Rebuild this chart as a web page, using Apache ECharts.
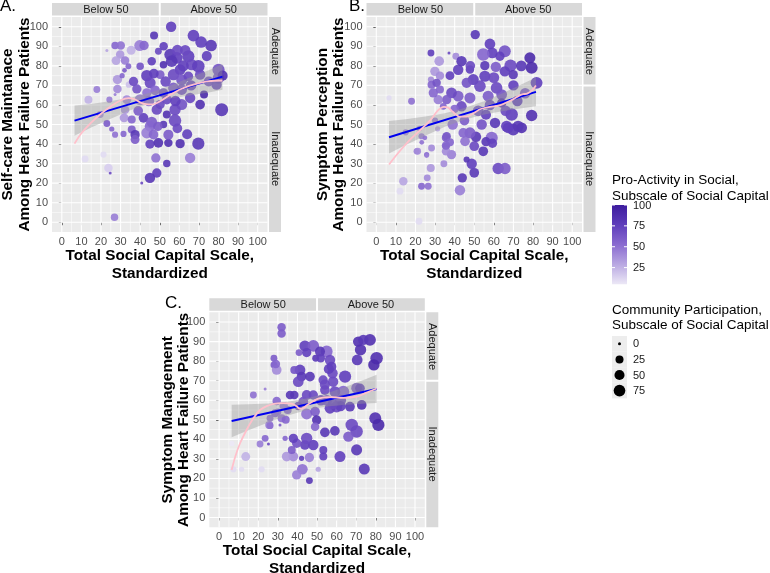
<!DOCTYPE html>
<html><head><meta charset="utf-8">
<script src="https://cdn.jsdelivr.net/npm/echarts@6/dist/echarts.min.js"></script>
<style>html,body{margin:0;padding:0;background:#fff}#c{width:770px;height:573px}</style>
</head><body><div id="c"></div><script>
// ---------- data ----------
const xTicks=[0,10,20,30,40,50,60,70,80,90,100];
const yTicks=[0,10,20,30,40,50,60,70,80,90,100];
const minorBreaks=[5,15,25,35,45,55,65,75,85,95];
const colorLegendTicks=[25,50,75,100];
const sizeLegendTicks=[0,25,50,75];
const stripTop=['Below 50','Above 50'];
const stripRight=['Adequate','Inadequate'];
const yTitles=['Self-care Maintanace\nAmong Heart Failure Patients','Symptom Perception\nAmong Heart Failure Patients','Symptom Management\nAmong Heart Failure Patients'];
const xTitle='Total Social Capital Scale,\nStandardized';
const panelLabels=['A.','B.','C.'];

// [x, y, pro-activity, community participation]
const panelA=[[13.6,62.7,25,25],[17.9,67.9,45,15],[23,87.8,30,0],[27.2,90.4,55,20],[30.1,90.4,50,30],[29.8,85.8,35,30],[35.4,88,25,35],[27.7,82.7,30,35],[32.3,82.7,45,30],[34,79.8,55,8],[32,77.7,60,3],[28.4,73,35,40],[30.8,75,55,5],[34.2,70.4,20,10],[28.4,68.2,40,30],[27.2,65.3,45,0],[24.3,62.7,45,10],[39.8,90.4,45,65],[42,90.4,55,40],[47.1,95.5,80,25],[49.3,87.5,70,15],[36.6,72,70,40],[38.3,68.2,65,40],[43.4,75,75,70],[45.1,71.3,70,65],[40,79.8,65,20],[45.9,82.4,75,30],[50.2,75.5,60,35],[47.6,67.5,55,45],[43.4,66.2,50,40],[40,62.7,45,65],[33.2,62.7,40,35],[32.3,57.6,35,30],[31.8,53.4,35,35],[35.7,52.5,55,25],[41.7,53.4,75,45],[45.9,51.2,60,60],[45,49.1,55,55],[23,50.5,60,15],[25.5,47.7,55,5],[19.6,55.1,40,15],[27.2,44.8,50,10],[31.5,45.2,55,10],[35.7,47.4,60,25],[37.4,44.8,80,40],[37.4,42.3,60,35],[43.4,45.7,45,65],[46.8,44.8,55,45],[45,40,75,40],[49.3,40.6,85,45],[54.4,40.6,85,30],[60.4,40.2,85,40],[69.7,40.2,80,85],[51.9,50,80,20],[53.6,55.1,85,25],[57.8,52,70,90],[54.4,44.8,60,50],[65.5,32.9,45,55],[53.6,30,80,20],[48,32.9,50,40],[48.5,25.2,75,40],[45,22.7,80,55],[40.8,20.1,70,0],[24.7,25.2,70,0],[21.3,34.6,10,10],[11.9,32.4,10,15],[23.8,27.8,15,30],[26.9,2.6,45,20],[55.3,85.8,80,75],[58.7,84.1,75,75],[64.6,84.9,75,85],[66.3,80.6,70,70],[69.7,79.8,75,90],[60.4,78.1,75,60],[56.1,82.4,80,75],[51.9,80.6,85,20],[57,75.5,70,70],[61.2,72.9,65,65],[64.6,74.6,70,45],[70.6,75.5,70,55],[80,78,65,85],[80,73.8,60,75],[79,70.4,70,55],[82.1,75,85,50],[57,68.7,60,60],[51.9,66.2,65,40],[53.6,62.7,70,45],[61.2,67.9,65,60],[65.5,63.6,70,55],[72.6,65.3,90,25],[70.6,60.2,85,45],[81.6,57.6,80,100],[61.2,60.2,65,65],[57.8,57.6,70,70],[50.2,60.2,70,40],[48.5,57.6,70,55],[67.2,95.5,75,75],[71.1,92.2,75,75],[76.2,90.4,80,75],[55.8,100,75,55],[63,88,70,55],[52,90,75,30],[44.5,62,55,55],[59,88,70,60],[62,80,75,65],[74,85,75,50],[66,70,70,55],[75,72,65,50],[58,62,75,55],[47,76,75,45],[53,72,70,55],[39,57,60,45],[64,45,75,50],[59,48,70,45],[49,49,60,40]];
const panelB=[[50.5,96,80,40],[58,91.2,75,60],[59.2,86.6,75,60],[27.9,86.6,75,15],[37.1,86.6,70,0],[40.6,84.9,40,15],[32.1,82.4,35,45],[29.9,77.2,35,40],[27.9,73,40,10],[32.5,75,40,30],[37.6,75,75,35],[41.8,78,75,55],[43.5,82.4,80,55],[47.8,78.1,75,30],[54.6,85.8,55,90],[55.4,80.1,80,40],[61,79.5,60,55],[65.6,87.5,65,80],[63.1,84.9,75,40],[68.5,80.1,70,85],[65.6,77.2,75,55],[69.9,75.5,80,40],[78.4,84.1,90,65],[79.3,79,90,80],[81.8,71.3,75,80],[49.5,73,75,65],[52.9,69.6,70,75],[55.4,74.7,75,65],[61.4,68.7,70,75],[64,65.3,65,60],[57.1,64.5,60,65],[46.1,71.3,65,50],[41.8,64.5,60,60],[47.8,63.6,60,65],[43.5,59.3,70,55],[38.4,66.2,70,60],[35.9,62.7,60,40],[31.6,62.7,45,40],[29.1,66.2,55,40],[28.2,70.4,55,25],[30.8,71.3,65,30],[32.5,67.9,55,25],[34.2,59.3,55,15],[18,61.9,50,15],[6.5,63.6,10,5],[35.9,44,65,30],[35.5,38.9,60,15],[38.4,34.6,45,40],[23.1,44,45,10],[20.6,36.3,45,10],[25.7,34.6,55,5],[28.2,38,40,15],[27.8,27.8,35,25],[23.1,18.4,55,15],[26.5,18.4,50,15],[13.8,21,30,30],[12.1,15.9,10,15],[21.8,0.5,10,15],[42.7,16.4,45,55],[43.9,22.7,80,40],[50,25.3,80,45],[48.7,29.9,75,55],[46.1,32.1,80,10],[62.2,27.5,70,70],[65.7,27.5,60,70],[34.5,29.9,40,15],[26,22.7,40,15],[25.7,34.1,45,3],[21.1,36.3,40,15],[23.2,40.9,50,3],[24.8,43.2,50,3],[35.6,36.3,40,30],[35.6,39.2,55,30],[35.6,43.2,60,30],[37.6,40.9,55,25],[31.3,47.8,30,5],[50,38.9,70,45],[50.9,43.7,80,55],[54.6,36.3,80,45],[58.9,43.2,55,85],[56,41.2,80,40],[59.3,40.4,75,40],[45.3,41.4,50,45],[47.8,45.7,60,65],[44.4,45.7,55,45],[53.8,50,65,55],[60.6,50.8,80,55],[69.9,47.4,80,80],[74.2,48.3,85,60],[67.3,48.3,75,60],[79.3,54.6,85,70],[69.1,55.1,75,90],[66.5,49.1,75,65],[72.4,49.1,80,65],[64,61,85,40],[58,60,70,55],[52,57,65,60],[72,62,75,55],[76,66,60,55],[40,58,55,30],[45,52,60,45],[39,50,50,55],[30,52,45,10],[22,48,45,5],[15,46,40,10],[74,80,80,60],[60,74,70,60],[70,70,75,55],[48,80,70,45],[66,57,70,55],[56,55,75,50]];
const panelC=[[31.9,97.3,60,30],[31.9,94.2,60,30],[43.8,87.8,75,65],[48.1,87.8,60,75],[40.8,84.4,60,15],[44.7,84.4,75,40],[54.9,84.9,55,80],[51.5,84.9,80,50],[49.3,81.5,80,15],[51.9,81.5,75,30],[56.6,80.6,70,55],[57.4,77.2,75,45],[57.9,73.8,70,55],[64.3,72.1,75,85],[58.2,69.5,70,55],[53.1,70.4,70,40],[46.4,72.1,80,45],[41.3,75.5,75,60],[42.1,72.1,80,45],[40.4,69.5,70,60],[38.4,75.5,65,25],[28,81.5,60,15],[28,78.1,60,15],[29.4,75.5,40,45],[29,78.5,55,30],[71,90,85,55],[72.2,85.8,85,70],[77,90.9,85,80],[73.6,90.9,80,55],[80.4,81.5,85,90],[79,78.1,90,70],[70.5,80.6,80,60],[70.2,66.2,60,60],[79.7,50.8,85,80],[81.3,47.4,90,85],[67.7,47.4,70,90],[70.2,44,70,90],[66,41.4,60,55],[70.2,34.6,80,65],[74.1,24.8,80,65],[61.7,31.2,75,65],[59.1,44.3,80,45],[54,43.6,80,45],[53.2,34.6,75,25],[53.2,31.2,75,25],[50.6,24.7,30,5],[46.1,30.7,45,40],[42.5,24.7,50,60],[39.6,21.8,45,40],[46.1,18.9,80,15],[42.1,30.3,75,5],[37.9,31.2,40,45],[34.5,31.2,35,45],[37.1,34.6,60,25],[43.8,37.1,75,45],[48.1,37.1,75,55],[44.7,40.5,70,70],[39.6,38,65,40],[37.9,40.5,75,40],[33.7,40.5,55,5],[23.5,40.5,55,15],[20.9,37.6,45,15],[25.2,37.6,70,0],[13.6,31.2,25,35],[7.3,24.7,10,10],[11.5,24.7,10,5],[21.7,24.7,10,10],[6.5,37.9,5,5],[17.5,62.7,50,15],[23.5,65.7,45,0],[29.4,59.6,55,30],[28.6,53.3,55,25],[26,50.8,50,15],[25.6,47.4,45,25],[31.1,47.4,60,0],[31.9,50.8,50,25],[36.2,62.7,80,30],[38.4,62.7,80,30],[44.7,62.7,70,45],[48.1,62.7,70,40],[43,59.3,65,45],[40.4,57.1,70,30],[44.7,53,50,65],[49,54.2,60,45],[49.8,49.9,85,40],[49,46.5,55,30],[63.4,64.4,55,80],[59.1,64.4,70,60],[54,65.2,70,45],[60,56.7,70,70],[56.6,55.9,75,60],[66.8,56.7,80,45],[72.8,57.6,85,45],[71.9,66.1,75,45],[52,60,70,55],[55,60,65,60],[62,60,70,65],[35,55,55,25],[33,57,45,30],[30,54,50,15],[26,47,50,15],[34,50,55,25],[56,76,75,50],[54,68,70,50],[62,57,75,55],[58,58,70,50]];

// linear fit + confidence band, loess curve
const bandXA=[6.5,15,25,35,45,55,65,75,82];
const bandLoA=[44.3,48.5,53,57.3,60.7,63.3,64.9,66.4,67.8];
const bandHiA=[59.7,60.5,62,63.7,66.3,69.7,73.9,77.8,81];
const lmA=[[6.5,52],[82,74.5]];
const loessA=[[6.5,40.2],[10,45.5],[15,51],[20,55.5],[26,60],[30,62.3],[34,63.5],[37,63],[40,61.3],[43,60.4],[46,60.3],[50,61.8],[55,65],[60,67.8],[65,69.8],[70,71.2],[75,72.2],[82,72.5]];
const bandXB=[6.5,15,25,35,45,55,65,75,81.5];
const bandLoB=[35.2,39.5,44.3,48.8,52.4,55.1,56.9,58.4,59.4];
const bandHiB=[51.8,52.7,54.1,55.8,58.4,61.9,66.3,71,74];
const lmB=[[6.5,43.5],[81.5,66.7]];
const loessB=[[6.5,29.5],[10,34],[13.8,38.5],[18,43],[22.3,47],[27.4,52],[31.6,57.3],[34.5,59],[36.5,58.8],[39,56.5],[42.7,54],[46.1,54],[50,56],[53,57.8],[58,59],[63,59.8],[67,61.5],[70,63],[73,64.8],[75,65.5],[77,65.8],[79.5,67.5],[81.5,70]];
const bandXC=[6.4,15,25,35,45,55,65,75,80.4];
const bandLoC=[41.1,44.7,48.6,52.2,55,56.8,57.7,58.3,58.6];
const bandHiC=[57.7,57.9,58.4,59.2,61,63.6,67.1,70.9,73];
const lmC=[[6.4,49.4],[80.4,65.8]];
const loessC=[[6.4,24.3],[8.2,31],[10.7,38],[14,44.8],[17.5,50.8],[20.9,55],[24.3,57],[28,58.2],[32.8,58.5],[37,58.3],[39.5,57],[41.3,55.6],[43,56],[45,57.6],[48,59.5],[51,61],[56.6,61.6],[63.4,61.2],[70.2,61.8],[75,63.8],[80.4,66]];

// ---------- styling ----------
const FONT='"Liberation Sans", Arial, Helvetica, sans-serif';
const colorStops=['#ECE8F6','#B9A8E2','#8A6BD0','#5E3DBB','#3D1C9E'];
const colMin=5, colMax=100;
const sizeFn=v=>3+10*Math.sqrt(Math.max(v,0)/100);
const grids=[{left:52,top:17,width:215.5,height:215},{left:366.5,top:17,width:215.5,height:215},{left:209.3,top:312.3,width:215.5,height:215}];
const panels=[
 {pts:panelA,bx:bandXA,blo:bandLoA,bhi:bandHiA,lm:lmA,lo:loessA},
 {pts:panelB,bx:bandXB,blo:bandLoB,bhi:bandHiB,lm:lmB,lo:loessB},
 {pts:panelC,bx:bandXC,blo:bandLoC,bhi:bandHiC,lm:lmC,lo:loessC}];

const gridData=[].concat(minorBreaks.map(v=>[v,1,0]),minorBreaks.map(v=>[v,0,0]),xTicks.map(v=>[v,1,1]),yTicks.map(v=>[v,0,1]));

const series=[],xAxes=[],yAxes=[],scatterIdx=[];
panels.forEach((p,i)=>{
  xAxes.push({gridIndex:i,type:'value',min:-5,max:105,axisLine:{show:false},splitLine:{show:false},
    axisTick:{show:true,customValues:xTicks,length:3,lineStyle:{color:'#333',width:1}},
    axisLabel:{customValues:xTicks,color:'#4D4D4D',fontSize:11,fontFamily:FONT,margin:4}});
  yAxes.push({gridIndex:i,type:'value',min:-5,max:105,axisLine:{show:false},splitLine:{show:false},
    axisTick:{show:true,customValues:yTicks,length:3,lineStyle:{color:'#333',width:1}},
    axisLabel:{customValues:yTicks,color:'#4D4D4D',fontSize:11,fontFamily:FONT,margin:4}});
  series.push({type:'custom',xAxisIndex:i,yAxisIndex:i,silent:true,z:1,data:gridData,
    renderItem:(params,api)=>{
      const v=api.value(0),vert=api.value(1),major=api.value(2);
      const a=vert?api.coord([v,-5]):api.coord([-5,v]);
      const b=vert?api.coord([v,105]):api.coord([105,v]);
      return {type:'line',shape:{x1:a[0],y1:a[1],x2:b[0],y2:b[1]},style:{stroke:'#FFFFFF',lineWidth:major?1.1:0.55}};
    }});
  scatterIdx.push(series.length);
  series.push({type:'scatter',xAxisIndex:i,yAxisIndex:i,silent:true,z:2,data:p.pts,
    symbolSize:d=>sizeFn(d[3]),itemStyle:{opacity:0.9}});
  series.push({type:'custom',xAxisIndex:i,yAxisIndex:i,silent:true,z:3,data:[[p.bx[0],p.blo[0]]],
    renderItem:(params,api)=>{
      const pts=[];
      for(let k=0;k<p.bx.length;k++)pts.push(api.coord([p.bx[k],p.bhi[k]]));
      for(let k=p.bx.length-1;k>=0;k--)pts.push(api.coord([p.bx[k],p.blo[k]]));
      return {type:'polygon',shape:{points:pts},style:{fill:'rgba(153,153,153,0.4)'}};
    }});
  series.push({type:'line',xAxisIndex:i,yAxisIndex:i,silent:true,z:4,data:p.lm,showSymbol:false,
    lineStyle:{color:'#0000EE',width:2}});
  series.push({type:'line',xAxisIndex:i,yAxisIndex:i,silent:true,z:5,data:p.lo,showSymbol:false,smooth:0.3,
    lineStyle:{color:'#FFC0CB',width:1.8}});
});

const chart=echarts.init(document.getElementById('c'),null,{renderer:'canvas'});
chart.setOption({
  animation:false,backgroundColor:'#FFFFFF',
  grid:grids.map(g=>Object.assign({show:true,backgroundColor:'#EBEBEB',borderWidth:0,containLabel:false},g)),
  xAxis:xAxes,yAxis:yAxes,
  visualMap:[{type:'continuous',show:false,seriesIndex:scatterIdx,dimension:2,min:colMin,max:colMax,inRange:{color:colorStops}}],
  series:series
});

// ---------- annotations: strips, titles, legends ----------
const gfx=[];
const txt=(x,y,text,o)=>gfx.push(Object.assign({type:'text',x:x,y:y,silent:true,
  style:Object.assign({text:text,fontFamily:FONT,fontSize:11,fill:'#1A1A1A',align:'center',verticalAlign:'middle'},o&&o.style||{})},o&&o.extra||{}));
grids.forEach((g,i)=>{
  const sp=chart.convertToPixel({gridIndex:i},[50,70]);
  const r=g.left+g.width, b=g.top+g.height;
  const st=g.top-14, sh=12.5;
  gfx.push({type:'rect',silent:true,shape:{x:g.left,y:st,width:sp[0]-1-g.left,height:sh},style:{fill:'#D9D9D9'}});
  gfx.push({type:'rect',silent:true,shape:{x:sp[0]+1,y:st,width:r-sp[0]-1,height:sh},style:{fill:'#D9D9D9'}});
  txt((g.left+sp[0])/2,st+sh/2+0.5,stripTop[0]);
  txt((sp[0]+r)/2,st+sh/2+0.5,stripTop[1]);
  const sx=r+1.5, sw=12;
  gfx.push({type:'rect',silent:true,shape:{x:sx,y:g.top,width:sw,height:sp[1]-1-g.top},style:{fill:'#D9D9D9'}});
  gfx.push({type:'rect',silent:true,shape:{x:sx,y:sp[1]+1,width:sw,height:b-sp[1]-1},style:{fill:'#D9D9D9'}});
  txt(sx+sw/2,(g.top+sp[1])/2,stripRight[0],{extra:{rotation:-Math.PI/2}});
  txt(sx+sw/2,(sp[1]+b)/2,stripRight[1],{extra:{rotation:-Math.PI/2}});
  const ytx=[16.3,331,176][i];
  txt(ytx,g.top+g.height/2,yTitles[i],{style:{fontSize:15.3,fontWeight:'bold',fill:'#000',lineHeight:16.5},extra:{rotation:Math.PI/2}});
  txt(g.left+g.width/2,b+32.5,xTitle,{style:{fontSize:15.3,fontWeight:'bold',fill:'#000',lineHeight:18}});
});
txt(0,-2,panelLabels[0],{style:{fontSize:17,fill:'#000',align:'left',verticalAlign:'top'}});
txt(349,-2,panelLabels[1],{style:{fontSize:17,fill:'#000',align:'left',verticalAlign:'top'}});
txt(165,295,panelLabels[2],{style:{fontSize:17,fill:'#000',align:'left',verticalAlign:'top'}});

// color legend
const LX=612, barTop=205, barBot=284.3, barW=15;
txt(LX,188.3,'Pro-Activity in Social,\nSubscale of Social Capital',{style:{fontSize:13.5,fill:'#000',align:'left',lineHeight:15.5}});
gfx.push({type:'rect',silent:true,shape:{x:LX,y:barTop,width:barW,height:barBot-barTop},
  style:{fill:new echarts.graphic.LinearGradient(0,1,0,0,colorStops.map((c,k)=>({offset:k/(colorStops.length-1),color:c})))}});
const vy=v=>barBot-(v-colMin)/(colMax-colMin)*(barBot-barTop);
colorLegendTicks.forEach(v=>{
  const y=vy(v);
  gfx.push({type:'line',silent:true,shape:{x1:LX,y1:y,x2:LX+3,y2:y},style:{stroke:'#fff',lineWidth:1}});
  gfx.push({type:'line',silent:true,shape:{x1:LX+barW-3,y1:y,x2:LX+barW,y2:y},style:{stroke:'#fff',lineWidth:1}});
  txt(LX+21,y+0.5,String(v),{style:{align:'left',fill:'#1A1A1A',fontSize:11}});
});
// size legend
txt(LX,318,'Community Participation,\nSubscale of Social Capital',{style:{fontSize:13.5,fill:'#000',align:'left',lineHeight:15}});
const keyTop=336, keyH=15.6;
sizeLegendTicks.forEach((v,k)=>{
  gfx.push({type:'rect',silent:true,shape:{x:LX,y:keyTop+k*keyH,width:barW,height:keyH},style:{fill:'#EDEDED'}});
});
sizeLegendTicks.forEach((v,k)=>{
  const cy=keyTop+k*keyH+keyH/2;
  gfx.push({type:'circle',silent:true,shape:{cx:LX+barW/2,cy:cy,r:sizeFn(v)/2},style:{fill:'#000'}});
  txt(LX+21,cy+0.5,String(v),{style:{align:'left',fill:'#1A1A1A',fontSize:11}});
});
chart.setOption({graphic:{elements:gfx}});
</script></body></html>
